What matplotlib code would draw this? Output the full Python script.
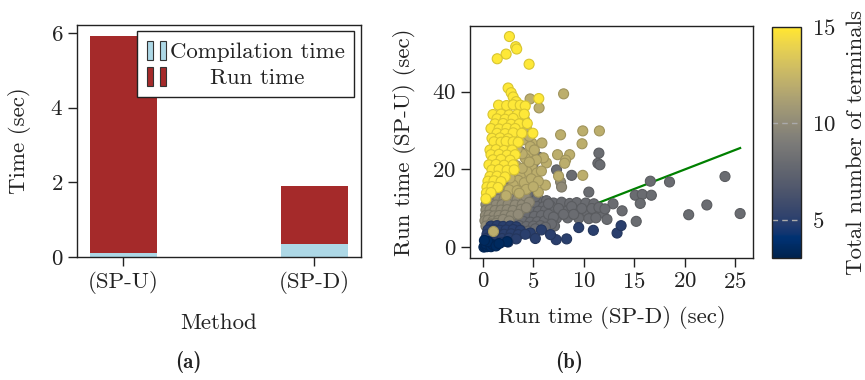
import numpy as np
import matplotlib
matplotlib.use("Agg")
import matplotlib.pyplot as plt
from matplotlib.patches import Patch
from matplotlib.legend_handler import HandlerTuple
from matplotlib.colors import Normalize

# ---------------- data: panel (a) ----------------
methods = ["(SP-U)", "(SP-D)"]
compilation_time = [0.115, 0.355]
run_time = [5.80, 1.55]

# ---------------- data: panel (b) ----------------
# groups by total number of terminals; x = run time SP-D, y = run time SP-U
t8_x = [3.7, 5.5, 5.0, 8.8, 11.5, 11.4, 11.6, 7.3,
        3.5, 4.2, 4.9, 5.6, 6.3,
        7.0, 7.8, 8.6, 9.3, 10.2, 11.0,
        3.0, 3.8, 4.5, 5.3, 6.0, 6.7,
        3.3, 4.0, 4.8, 5.5, 6.2, 7.5, 8.4, 9.2, 10.3, 11.0, 11.9,
        2.9, 3.6, 4.4, 5.1, 5.8,
        7.3, 8.4, 9.5, 10.5, 11.2,
        3.2, 4.0, 4.7, 5.4, 6.1,
        2.8, 3.6, 4.3, 5.0, 5.7, 7.1,
        3.0, 3.8, 4.5,
        6.5, 7.0, 6.8, 6.2, 5.2, 7.5, 8.0, 8.8, 9.8, 10.8, 11.5, 9.0,
        6.5, 5.2, 4.5, 12.3,
        12.9, 13.8, 15.1, 15.8, 16.7, 15.6, 15.2, 16.6, 18.5, 24.0,
        20.4, 22.2, 25.5, 12.1, 10.5]
t8_y = [24.6, 23.2, 21.6, 18.5, 24.2, 21.6, 21.2, 19.9,
        12.0, 12.1, 11.9, 12.2, 12.0,
        11.4, 11.6, 11.3, 11.5, 11.4, 11.2,
        10.6, 10.7, 10.5, 10.6, 10.4, 10.7,
        9.3, 9.4, 9.2, 9.3, 9.5, 9.2, 9.4, 9.3, 9.2, 9.4, 8.8,
        8.0, 8.1, 7.9, 8.0, 8.2,
        7.5, 7.6, 7.5, 7.4, 7.6,
        6.6, 6.7, 6.5, 6.6, 6.8,
        5.5, 5.6, 5.4, 5.5, 5.6, 5.5,
        4.3, 4.4, 4.2,
        8.5, 7.8, 6.0, 5.2, 4.8, 10.0, 8.5, 10.5, 10.0, 10.0, 10.3, 8.5,
        11.2, 13.0, 13.8, 7.2,
        11.2, 9.4, 13.4, 13.6, 13.4, 11.3, 6.7, 17.0, 16.8, 18.2,
        8.4, 10.9, 8.7, 9.9, 14.2]

t10_x = [1.0, 1.6, 2.2, 2.9,
         0.6, 1.3, 1.9, 2.5, 3.2,
         0.5, 1.1, 1.7, 2.3, 3.0, 3.7,
         0.4, 0.9, 1.5, 2.1, 2.7, 3.4, 4.1,
         0.3, 0.8, 1.3, 1.9, 2.5, 3.2, 3.9,
         0.3, 0.7, 1.2, 1.8, 2.4, 3.0,
         0.25, 0.6, 1.1, 1.6, 2.2, 2.8,
         0.2, 0.5, 1.0, 1.5,
         3.6, 4.2, 4.6, 3.8, 4.3, 0.3, 0.8, 1.3, 2.0, 2.6, 3.5,
         7.7, 7.8]
t10_y = [16.5, 16.6, 16.4, 16.5,
         15.2, 15.3, 15.1, 15.2, 15.3,
         13.8, 13.9, 13.7, 13.8, 13.9, 13.7,
         12.4, 12.5, 12.3, 12.4, 12.5, 12.3, 12.4,
         11.0, 11.1, 10.9, 11.0, 11.1, 10.9, 11.0,
         9.6, 9.7, 9.5, 9.6, 9.7, 9.5,
         8.2, 8.3, 8.1, 8.2, 8.3, 8.1,
         6.9, 7.0, 6.8, 6.9,
         16.0, 13.2, 11.6, 9.8, 10.2, 5.5, 6.0, 6.2, 7.2, 6.8, 8.5,
         16.8, 15.5]

t12_x = [4.68, 5.57, 8.0, 7.7, 9.9, 11.55, 9.83, 4.85, 5.85, 8.6, 7.4,
         8.2, 8.1, 6.3, 9.9, 4.5, 4.0, 4.7, 4.2, 4.85, 4.35, 5.35, 3.7,
         5.5, 6.2, 7.5,
         3.3, 3.9, 2.9, 3.5, 4.1, 4.8, 5.5, 3.0, 2.6, 3.4, 4.3, 5.0,
         5.8, 6.0, 5.3, 3.9, 3.4, 4.3, 4.1, 4.6,
         2.3, 1.6, 2.0, 2.7, 3.6, 4.6, 5.1]
t12_y = [38.1, 35.8, 39.4, 28.9, 29.9, 29.9, 26.6, 26.8, 26.8, 23.8, 23.8,
         22.4, 21.6, 21.7, 18.5, 24.2, 27.6, 25.9, 22.9, 20.8, 19.5, 19.1, 18.2,
         14.2, 16.0, 18.3,
         21.0, 20.3, 19.0, 17.2, 16.6, 17.6, 17.0, 16.0, 14.8, 14.6, 14.9, 15.6,
         19.6, 23.0, 22.5, 24.0, 25.3, 30.5, 32.9, 28.5,
         13.3, 17.6, 18.6, 17.8, 13.9, 21.9, 25.0]

t5_x = [9.5, 10.95, 13.3, 13.7, 7.26, 4.7, 5.8, 6.7, 8.3,
        0.8, 1.4, 2.0, 2.7, 3.3,
        0.5, 1.1, 1.7, 2.3, 3.0, 3.7,
        0.4, 0.9, 1.5, 2.1, 2.8, 3.5, 4.2,
        0.3, 0.8, 1.3, 1.9, 2.6, 3.3, 5.2,
        0.3, 0.7, 1.2, 1.8, 2.5]
t5_y = [5.1, 4.4, 3.7, 5.6, 2.0, 3.7, 4.5, 3.3, 2.2,
        5.5, 5.6, 5.4, 5.5, 5.3,
        4.5, 4.6, 4.4, 4.5, 4.6, 4.4,
        3.4, 3.5, 3.3, 3.4, 3.5, 3.3, 3.4,
        2.3, 2.4, 2.2, 2.3, 2.4, 2.2, 2.3,
        1.3, 1.4, 1.2, 1.3, 1.4]

t3_x = [0.1, 0.2, 0.4, 0.6, 0.3, 0.8, 1.0, 0.5, 1.3, 2.4, 0.15, 1.6]
t3_y = [0.1, 0.4, 0.2, 0.5, 0.9, 0.2, 0.7, 1.5, 0.4, 1.5, 1.8, 1.0]

t15_x = [2.63, 3.25, 3.35, 2.3, 1.42, 4.58, 5.54, 4.95,
         2.5, 2.8, 3.0, 3.3,
         1.55, 2.35, 3.0, 3.7, 4.2,
         1.0, 1.8, 2.6, 3.4, 4.1,
         1.4, 2.2, 3.0,
         1.2, 2.0, 2.8, 3.6, 4.4,
         0.8, 1.6, 2.4, 3.2,
         1.4, 2.2, 3.0, 3.85,
         0.9, 1.7, 2.5,
         1.1, 1.8, 2.3, 3.0, 3.5,
         0.7, 1.3, 2.1, 2.9,
         0.8, 1.6, 2.4, 3.2,
         1.0, 1.8, 2.7,
         0.6, 1.3, 2.1, 3.0,
         0.9, 1.6, 2.4, 3.1,
         0.7, 1.4, 2.2,
         0.5, 1.1, 1.8,
         0.4, 0.9, 1.5,
         0.35, 0.8, 0.3]
t15_y = [54.1, 51.5, 50.9, 49.6, 48.4, 47.0, 38.2, 29.3,
         40.9, 39.7, 38.6, 37.4,
         36.5, 36.4, 36.6, 36.5, 36.3,
         34.1, 34.2, 34.0, 34.1, 34.2,
         33.0, 32.9, 33.1,
         31.7, 31.8, 31.6, 31.7, 31.8,
         30.5, 30.4, 30.6, 30.5,
         29.3, 29.2, 29.4, 29.3,
         28.0, 28.1, 27.9,
         27.1, 27.0, 27.2, 27.1, 27.0,
         25.0, 25.1, 24.9, 25.0,
         23.8, 23.9, 23.7, 23.8,
         22.5, 22.6, 22.4,
         21.2, 21.3, 21.1, 21.2,
         19.9, 20.0, 19.8, 19.9,
         18.2, 18.3, 18.1,
         17.0, 17.1, 16.9,
         15.5, 15.6, 15.4,
         14.0, 14.1, 12.5]

extra_x = [1.05]
extra_y = [4.1]

groups = [(t8_x, t8_y, 8), (t10_x, t10_y, 10), (t12_x, t12_y, 12),
          (t5_x, t5_y, 5), (t3_x, t3_y, 3.5), (t15_x, t15_y, 15),
          (extra_x, extra_y, 12)]

# ---------------- style ----------------
plt.rcParams["font.family"] = ["cmr10", "DejaVu Serif"]
plt.rcParams["axes.unicode_minus"] = False
plt.rcParams["axes.formatter.use_mathtext"] = True
plt.rcParams["font.size"] = 16.5
TXT = "#222222"
plt.rcParams["text.color"] = TXT
plt.rcParams["axes.labelcolor"] = TXT
plt.rcParams["xtick.color"] = TXT
plt.rcParams["ytick.color"] = TXT
plt.rcParams["axes.edgecolor"] = "#222222"
plt.rcParams["axes.linewidth"] = 1.0

fig = plt.figure(figsize=(8.65, 3.8), dpi=100)

# ---------------- panel (a) ----------------
ax1 = fig.add_axes([0.089, 0.3237, 0.328, 0.6103])
xpos = np.arange(len(methods))
ax1.bar(xpos, compilation_time, width=0.35, color="lightblue")
ax1.bar(xpos, run_time, width=0.35, bottom=compilation_time, color="brown")
ax1.set_xticks(xpos)
ax1.set_xticklabels(methods)
ax1.set_yticks([0, 2, 4, 6])
ax1.set_xlabel("Method", labelpad=14)
ax1.set_ylabel("Time (sec)", labelpad=14)
ax1.tick_params(length=6.5, width=1)

pc = Patch(facecolor="lightblue", edgecolor="#333333", lw=0.8)
pr = Patch(facecolor="brown", edgecolor="#333333", lw=0.8)
leg = ax1.legend([(pc, pc), (pr, pr)], ["Compilation time", "Run time"],
                 handler_map={tuple: HandlerTuple(ndivide=None, pad=0.3)},
                 loc="upper right", fancybox=False, framealpha=1,
                 edgecolor="#222222", handlelength=0.85, handleheight=0.9,
                 handletextpad=0.18, borderpad=0.4, labelspacing=0.2,
                 borderaxespad=0.28)
leg.get_frame().set_linewidth(1.0)

# ---------------- panel (b) ----------------
ax2 = fig.add_axes([0.5434, 0.321, 0.3271, 0.6106])
cmap = plt.get_cmap("cividis")
norm = Normalize(vmin=3, vmax=15)
for gx, gy, gt in groups:
    face = np.array(cmap(norm(np.full(len(gx), gt))))
    edge = face.copy()
    edge[:, :3] = edge[:, :3] * 0.85
    ax2.scatter(gx, gy, s=52, c=face, edgecolors=edge, linewidths=0.8, zorder=3)

all_x = [v for g in groups for v in g[0]]
lx = [0, max(all_x)]
ax2.plot(lx, lx, color="green", lw=1.6, zorder=2)

ax2.set_xticks([0, 5, 10, 15, 20, 25])
ax2.set_yticks([0, 20, 40])
ax2.set_xlabel("Run time (SP-D) (sec)", labelpad=10)
ax2.set_ylabel("Run time (SP-U) (sec)", labelpad=12)
ax2.tick_params(length=6.5, width=1)

cax = fig.add_axes([0.892, 0.321, 0.0335, 0.608])
sm = plt.cm.ScalarMappable(norm=norm, cmap=cmap)
cb = fig.colorbar(sm, cax=cax, ticks=[5, 10, 15])
cb.outline.set_linewidth(1.0)
cb.outline.set_edgecolor("#222222")
cax.tick_params(length=0, pad=8)
for v in (5, 10):
    cax.axhline(v, color="#aaaaaa", ls=(0, (4, 3)), lw=1.0)
cb.set_label("Total number of terminals", labelpad=8)

fig.text(0.2174, 0.047, "(a)", family="cmb10", fontsize=15, ha="center", va="center")
fig.text(0.658, 0.047, "(b)", family="cmb10", fontsize=15, ha="center", va="center")

# center the shorter legend label under the longer one
fig.canvas.draw()
r = fig.canvas.get_renderer()
texts = leg.get_texts()
widths = [t.get_window_extent(r).width for t in texts]
wmax = max(widths)
for t, w in zip(texts, widths):
    t.set_x((wmax - w) / 2.0)

fig.savefig("out.png", dpi=100)
